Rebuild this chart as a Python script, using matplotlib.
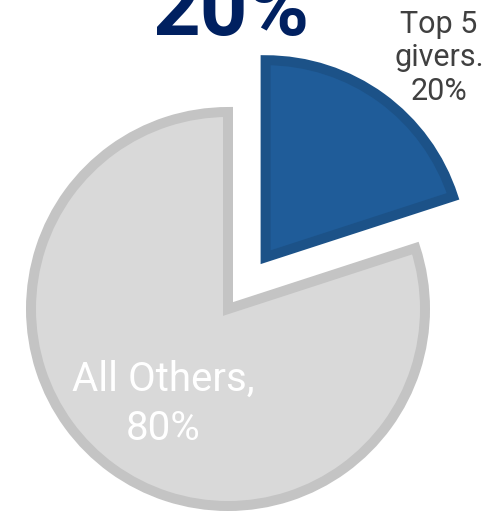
import matplotlib
matplotlib.use("Agg")
import matplotlib.pyplot as plt

# Share of giving
groups = ["Top 5 givers.", "All Others,"]
shares = [20, 80]

fill_colors = ["#1F5C99", "#D9D9D9"]
edge_colors = ["#1C5288", "#C4C4C4"]

W, H, DPI = 490, 512, 100
fig = plt.figure(figsize=(W / DPI, H / DPI), dpi=DPI)
ax = fig.add_axes([0, 0, 1, 1])

cx, cy, r = 228, 203, 197
wedges, _ = ax.pie(
    shares,
    explode=[64, 0],
    center=(cx, cy),
    radius=r,
    startangle=90,
    counterclock=False,
    colors=fill_colors,
    wedgeprops=dict(linewidth=7.2, joinstyle="miter"),
)
for w, ec in zip(wedges, edge_colors):
    w.set_edgecolor(ec)

ax.set_xlim(0, W)
ax.set_ylim(0, H)
ax.set_aspect("equal")
ax.axis("off")

font = ["Roboto", "DejaVu Sans"]

# Headline figure for the top group
ax.text(230.5, 477, f"{shares[0]}%", ha="center", va="baseline",
        fontsize=60, fontweight="bold", color="#002060", family=font)

# Slice labels (anchored on the baseline of their last line)
ax.text(439, 412, "Top 5\ngivers.\n" + f"{shares[0]}%", ha="center",
        va="baseline", fontsize=22, color="#404040", family=font,
        linespacing=1.2, multialignment="center")
ax.text(163.5, 72, "All Others,\n" + f"{shares[1]}%", ha="center",
        va="baseline", fontsize=29, color="white", family=font,
        linespacing=1.32, multialignment="center")

fig.savefig("out.png", dpi=DPI)
